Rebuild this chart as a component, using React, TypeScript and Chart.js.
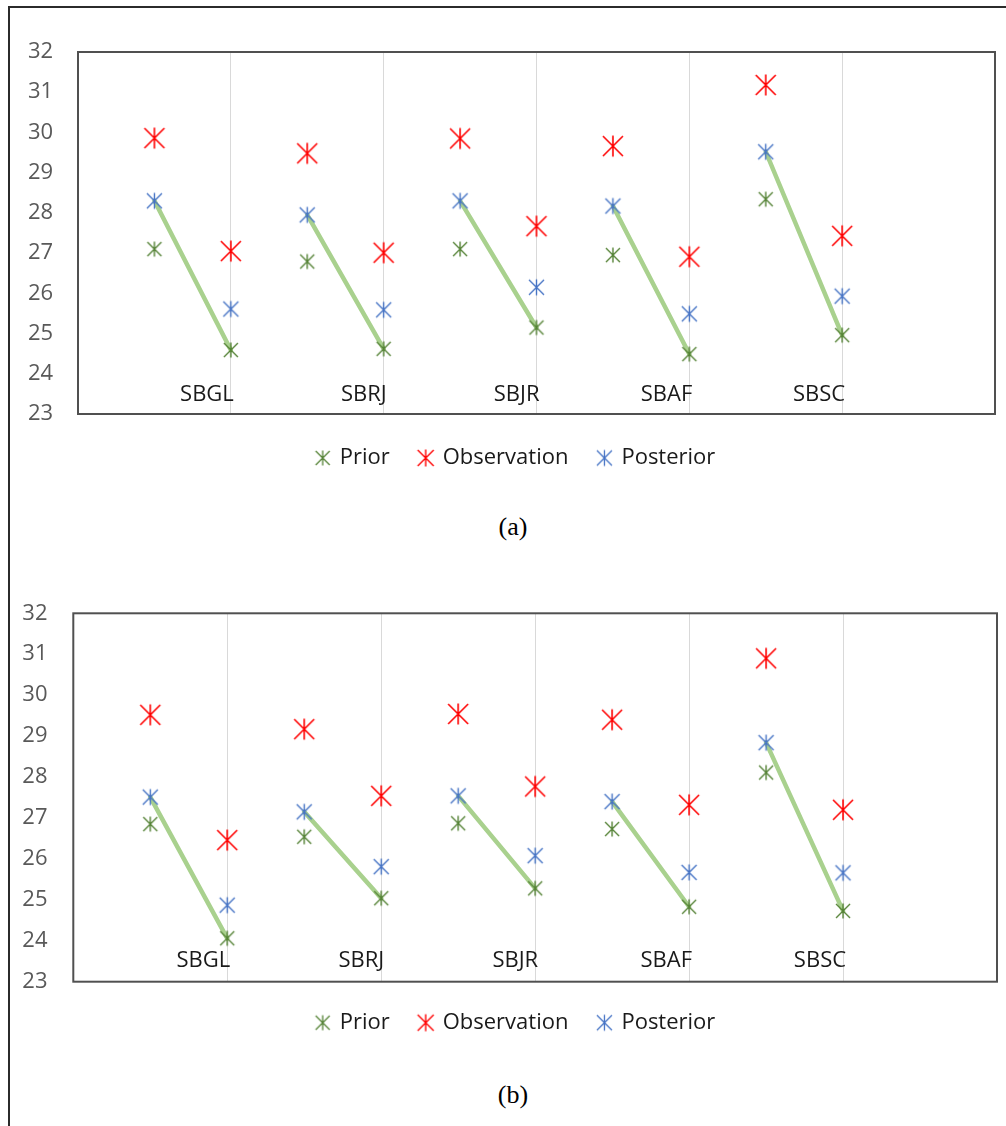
import React, { useEffect, useRef } from 'react';
import { Chart, registerables } from 'chart.js';

Chart.register(...registerables);

// ---------- data ----------
const stations = ['SBGL', 'SBRJ', 'SBJR', 'SBAF', 'SBSC'];
const seriesNames = ['Prior', 'Observation', 'Posterior'];

// panel (a)
const priorFirstA = [27.1, 26.79, 27.1, 26.95, 28.34];
const priorSecondA = [24.59, 24.62, 25.15, 24.49, 24.96];
const obsFirstA = [29.86, 29.48, 29.85, 29.66, 31.18];
const obsSecondA = [27.05, 27.01, 27.67, 26.91, 27.43];
const postFirstA = [28.3, 27.95, 28.3, 28.17, 29.52];
const postSecondA = [25.61, 25.59, 26.15, 25.49, 25.93];

// panel (b)
const priorFirstB = [26.85, 26.54, 26.87, 26.73, 28.11];
const priorSecondB = [24.06, 25.04, 25.28, 24.83, 24.73];
const obsFirstB = [29.52, 29.17, 29.54, 29.4, 30.9];
const obsSecondB = [26.46, 27.54, 27.77, 27.32, 27.2];
const postFirstB = [27.51, 27.15, 27.54, 27.4, 28.84];
const postSecondB = [24.87, 25.81, 26.08, 25.67, 25.66];

const yMin = 23;
const yMax = 32;

// ---------- styles ----------
const GREEN = '#548235';
const RED = '#FF0000';
const BLUE = '#4472C4';
const LINE_GREEN = '#A9D18E';
const FONT = '"Open Sans", "Noto Sans", sans-serif';

function makeStar(color: string, size: number, lw: number) {
  const pad = 2;
  const d = size + pad * 2;
  const c = document.createElement('canvas');
  c.width = d;
  c.height = d;
  const ctx = c.getContext('2d')!;
  ctx.strokeStyle = color;
  ctx.lineWidth = lw;
  const a = pad;
  const b = pad + size;
  ctx.beginPath();
  ctx.moveTo(a, a);
  ctx.lineTo(b, b);
  ctx.moveTo(b, a);
  ctx.lineTo(a, b);
  ctx.moveTo(d / 2, a - 0.5);
  ctx.lineTo(d / 2, b + 0.5);
  ctx.stroke();
  return c;
}

type Panel = {
  prior1: number[];
  prior2: number[];
  obs1: number[];
  obs2: number[];
  post1: number[];
  post2: number[];
};

type Geo = {
  pl: number;
  pr: number;
  pt: number;
  pb: number;
  yw: number;
  xh: number;
  labelOffset: number;
  tickPad: number;
};

function buildConfig(p: Panel, g: Geo): any {
  const pts = (a1: number[], a2: number[]) =>
    stations.flatMap((_, i) => [
      { x: i + 0.5, y: a1[i] },
      { x: i + 1, y: a2[i] },
    ]);
  const seg = stations.flatMap((_, i) => [
    { x: i + 0.5, y: p.post1[i] },
    { x: i + 1, y: p.prior2[i] },
    { x: i + 1.25, y: null },
  ]);

  const markers = [makeStar(GREEN, 14, 1.4), makeStar(RED, 20, 1.6), makeStar(BLUE, 15, 1.4)];
  const legendMarkers = [makeStar(GREEN, 14, 1.3), makeStar(RED, 16, 1.4), makeStar(BLUE, 15, 1.3)];
  const colors = [GREEN, RED, BLUE];
  const values = [
    pts(p.prior1, p.prior2),
    pts(p.obs1, p.obs2),
    pts(p.post1, p.post2),
  ];

  const framePlugin = {
    id: 'frameAndLabels',
    afterDatasetsDraw(chart: any) {
      const { ctx, chartArea: a, scales } = chart;
      ctx.save();
      ctx.strokeStyle = '#505050';
      ctx.lineWidth = 2;
      ctx.strokeRect(a.left, a.top, a.right - a.left, a.bottom - a.top);
      ctx.fillStyle = '#1a1a1a';
      ctx.font = `22px ${FONT}`;
      ctx.textAlign = 'right';
      ctx.textBaseline = 'middle';
      stations.forEach((s, i) => {
        ctx.fillText(s, scales.x.getPixelForValue(i + 1) + 3, a.bottom - g.labelOffset);
      });
      ctx.restore();
    },
  };

  return {
    type: 'scatter',
    data: {
      datasets: [
        ...seriesNames.map((name, k) => ({
          label: name,
          data: values[k],
          pointStyle: markers[k],
          pointRadius: 8,
          borderColor: colors[k],
          backgroundColor: colors[k],
          showLine: false,
        })),
        {
          type: 'line',
          label: 'link',
          data: seg,
          borderColor: LINE_GREEN,
          backgroundColor: LINE_GREEN,
          borderWidth: 4.5,
          borderCapStyle: 'round',
          pointRadius: 0,
          spanGaps: false,
          fill: false,
          showLine: true,
        },
      ],
    },
    options: {
      animation: false,
      responsive: false,
      devicePixelRatio: 1,
      layout: { padding: { left: g.pl, right: g.pr, top: g.pt, bottom: g.pb } },
      scales: {
        x: {
          type: 'linear',
          min: 0,
          max: 6,
          ticks: { display: false, stepSize: 1 },
          grid: {
            drawTicks: false,
            lineWidth: 1,
            color: (c: any) =>
              c.tick && (c.tick.value === 0 || c.tick.value === 6) ? 'rgba(0,0,0,0)' : '#D9D9D9',
          },
          border: { display: false },
          afterFit: (s: any) => {
            s.height = g.xh;
          },
        },
        y: {
          type: 'linear',
          min: yMin,
          max: yMax,
          ticks: {
            stepSize: 1,
            mirror: true,
            color: '#595959',
            padding: g.tickPad,
            font: { family: FONT, size: 22 },
          },
          grid: { display: false, drawTicks: false },
          border: { display: false },
          afterFit: (s: any) => {
            s.width = g.yw;
          },
        },
      },
      plugins: {
        tooltip: { enabled: false },
        legend: {
          position: 'bottom',
          labels: {
            usePointStyle: true,
            pointStyleWidth: 12,
            padding: 30,
            color: '#1a1a1a',
            font: { family: FONT, size: 22 },
            filter: (item: any) => item.datasetIndex < 3,
            generateLabels: (chart: any) =>
              (Chart.defaults.plugins.legend.labels as any)
                .generateLabels(chart)
                .map((it: any) => ({
                  ...it,
                  pointStyle: it.datasetIndex < 3 ? legendMarkers[it.datasetIndex] : it.pointStyle,
                })),
          },
        },
      },
    },
    plugins: [framePlugin],
  };
}

function PanelChart({ panel, geo, top }: { panel: Panel; geo: Geo; top: number }) {
  const ref = useRef<HTMLCanvasElement | null>(null);
  useEffect(() => {
    if (!ref.current) return;
    const chart = new Chart(ref.current, buildConfig(panel, geo));
    return () => chart.destroy();
  }, []);
  return (
    <canvas
      ref={ref}
      width={994}
      height={470}
      style={{ position: 'absolute', left: 12, top, width: 994, height: 470 }}
    />
  );
}

const panelA: Panel = {
  prior1: priorFirstA,
  prior2: priorSecondA,
  obs1: obsFirstA,
  obs2: obsSecondA,
  post1: postFirstA,
  post2: postSecondA,
};
const panelB: Panel = {
  prior1: priorFirstB,
  prior2: priorSecondB,
  obs1: obsFirstB,
  obs2: obsSecondB,
  post1: postFirstB,
  post2: postSecondB,
};

// mirrored y labels: negative padding puts them left of the plot box
const geoA: Geo = { pl: 25, pr: 11, pt: 32, pb: 11, yw: 41, xh: 3, labelOffset: 19, tickPad: -50 };
const geoB: Geo = { pl: 22.7, pr: 8.7, pt: 28.3, pb: 11.3, yw: 38.6, xh: 0, labelOffset: 21, tickPad: -51 };

const captionStyle: React.CSSProperties = {
  position: 'absolute',
  left: 413,
  width: 200,
  textAlign: 'center',
  fontFamily: '"Liberation Serif", "Times New Roman", serif',
  fontSize: 26,
  lineHeight: '30px',
  color: '#000',
};

export default function App() {
  return (
    <div
      style={{
        position: 'absolute',
        left: 0,
        top: 0,
        width: 1006,
        height: 1126,
        overflow: 'hidden',
        background: '#fff',
      }}
    >
      <div
        style={{
          position: 'absolute',
          left: 8,
          top: 6,
          width: 1010,
          height: 1130,
          borderLeft: '2.5px solid #2b2b2b',
          borderTop: '2px solid #2b2b2b',
        }}
      />
      <PanelChart panel={panelA} geo={geoA} top={20} />
      <div style={{ ...captionStyle, top: 512 }}>(a)</div>
      <PanelChart panel={panelB} geo={geoB} top={585} />
      <div style={{ ...captionStyle, top: 1080 }}>(b)</div>
    </div>
  );
}
